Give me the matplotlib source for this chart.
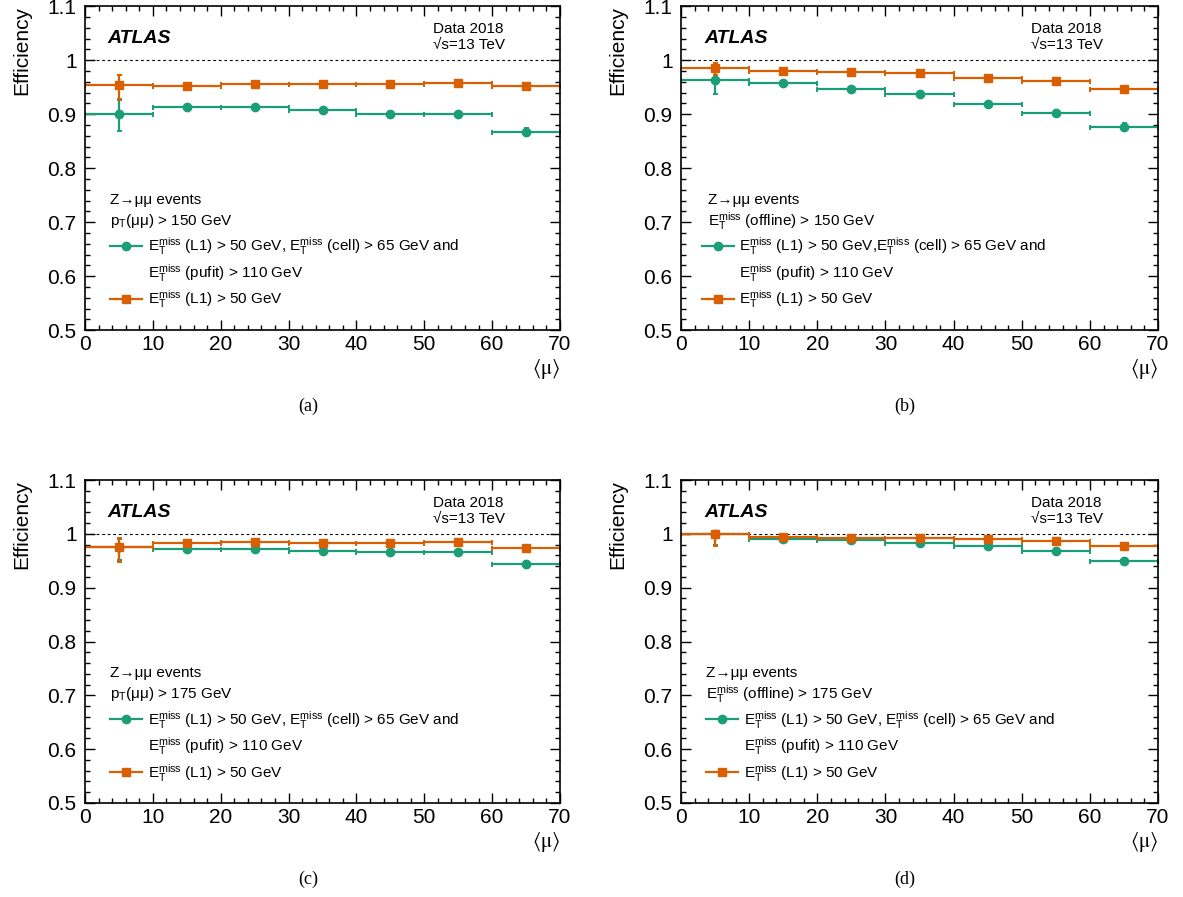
import matplotlib
matplotlib.use("Agg")
import numpy as np
import matplotlib.pyplot as plt
from matplotlib.lines import Line2D
from matplotlib.ticker import MultipleLocator, FuncFormatter

plt.rcParams['font.family'] = ['Liberation Sans', 'DejaVu Sans']
plt.rcParams['mathtext.fontset'] = 'custom'
plt.rcParams['mathtext.rm'] = 'Liberation Sans'
plt.rcParams['mathtext.it'] = 'Liberation Sans:italic'
plt.rcParams['mathtext.bf'] = 'Liberation Sans:bold'

# <mu> binning
mu_edges = [0, 10, 20, 30, 40, 50, 60, 70]

# (a) Z->mumu, pT(mumu) > 150 GeV
eff_a_comb = [0.901, 0.9125, 0.914, 0.907, 0.901, 0.901, 0.867]
lo_a_comb = [0.032, 0.002, 0.002, 0.002, 0.002, 0.002, 0.008]
hi_a_comb = [0.028, 0.002, 0.002, 0.002, 0.002, 0.002, 0.008]
eff_a_l1 = [0.954, 0.952, 0.956, 0.956, 0.956, 0.958, 0.953]
lo_a_l1 = [0.027, 0.002, 0.002, 0.002, 0.002, 0.002, 0.005]
hi_a_l1 = [0.018, 0.002, 0.002, 0.002, 0.002, 0.002, 0.005]

# (b) Z->mumu, MET(offline) > 150 GeV
eff_b_comb = [0.963, 0.958, 0.9475, 0.937, 0.919, 0.9025, 0.876]
lo_b_comb = [0.025, 0.002, 0.002, 0.002, 0.002, 0.002, 0.007]
hi_b_comb = [0.021, 0.002, 0.002, 0.002, 0.002, 0.002, 0.007]
eff_b_l1 = [0.985, 0.981, 0.979, 0.976, 0.968, 0.961, 0.946]
lo_b_l1 = [0.012, 0.002, 0.002, 0.002, 0.002, 0.002, 0.005]
hi_b_l1 = [0.010, 0.002, 0.002, 0.002, 0.002, 0.002, 0.005]

# (c) Z->mumu, pT(mumu) > 175 GeV
eff_c_comb = [0.976, 0.9725, 0.972, 0.969, 0.966, 0.967, 0.9435]
lo_c_comb = [0.025, 0.002, 0.002, 0.002, 0.002, 0.002, 0.007]
hi_c_comb = [0.015, 0.002, 0.002, 0.002, 0.002, 0.002, 0.007]
eff_c_l1 = [0.976, 0.983, 0.985, 0.984, 0.984, 0.985, 0.974]
lo_c_l1 = [0.029, 0.002, 0.002, 0.002, 0.002, 0.002, 0.005]
hi_c_l1 = [0.016, 0.002, 0.002, 0.002, 0.002, 0.002, 0.004]

# (d) Z->mumu, MET(offline) > 175 GeV
eff_d_comb = [0.999, 0.991, 0.988, 0.983, 0.977, 0.969, 0.950]
lo_d_comb = [0.020, 0.002, 0.002, 0.002, 0.002, 0.002, 0.007]
hi_d_comb = [0.001, 0.002, 0.002, 0.002, 0.002, 0.002, 0.006]
eff_d_l1 = [1.000, 0.9945, 0.993, 0.992, 0.991, 0.987, 0.977]
lo_d_l1 = [0.023, 0.002, 0.002, 0.002, 0.002, 0.002, 0.005]
hi_d_l1 = [0.000, 0.002, 0.002, 0.002, 0.002, 0.002, 0.004]

green = '#1b9e77'
orange = '#d95f02'
MET = r'$\mathrm{E}_{\mathrm{T}}^{\mathrm{miss}}$'

edges = np.array(mu_edges, dtype=float)
centers = 0.5 * (edges[1:] + edges[:-1])
halfw = 0.5 * (edges[1:] - edges[:-1])


def draw_panel(ax, comb, l1, header, comb_label, caption, hdr_x, leg_x):
    for (eff, lo, hi), col, mk in [(comb, green, 'o'), (l1, orange, 's')]:
        ax.errorbar(centers, eff, xerr=halfw, yerr=[lo, hi], fmt=mk, color=col,
                    ms=6, elinewidth=1.6, capsize=1.8, capthick=1.4)
    ax.axhline(1.0, color='k', ls=(0, (2.5, 2.5)), lw=0.8, zorder=0)

    ax.set_xlim(0, 70)
    ax.set_ylim(0.5, 1.1)
    ax.xaxis.set_major_locator(MultipleLocator(10))
    ax.xaxis.set_minor_locator(MultipleLocator(2))
    ax.yaxis.set_major_locator(MultipleLocator(0.1))
    ax.yaxis.set_minor_locator(MultipleLocator(0.02))
    ax.yaxis.set_major_formatter(FuncFormatter(lambda v, p: '%g' % round(v, 3)))
    ax.tick_params(which='both', direction='in', top=True, right=True, labelsize=15)
    ax.tick_params(which='major', length=7, width=1.0)
    ax.tick_params(which='minor', length=3.5, width=1.0)
    ax.tick_params(axis='y', which='major', pad=6)
    for sp in ax.spines.values():
        sp.set_linewidth(1.2)

    ax.set_ylabel('Efficiency', loc='top', fontsize=15, labelpad=12)
    ax.set_xlabel(r'$\langle\mathrm{\mu}\rangle$', loc='right', fontsize=15,
                  math_fontfamily='stix', labelpad=2)

    ax.text(0.048, 0.9, 'ATLAS', transform=ax.transAxes, fontsize=14,
            fontweight='bold', fontstyle='italic', va='center')
    ax.text(0.733, 0.93, 'Data 2018', transform=ax.transAxes, fontsize=11, va='center')
    ax.text(0.733, 0.88, '√s=13 TeV', transform=ax.transAxes, fontsize=11, va='center')

    ax.text(hdr_x, 0.402, 'Z→μμ events', transform=ax.transAxes, fontsize=11, va='center')
    ax.text(hdr_x, 0.338, header, transform=ax.transAxes, fontsize=11, va='center')

    handles = [Line2D([], [], color=green, marker='o', ms=6, lw=1.6),
               Line2D([], [], color='none'),
               Line2D([], [], color=orange, marker='s', ms=6, lw=1.6)]
    labels = [comb_label[0], comb_label[1], MET + ' (L1) > 50 GeV']
    ax.legend(handles, labels, loc='upper left', bbox_to_anchor=(leg_x, 0.292),
              frameon=False, fontsize=11, handlelength=2.1, handletextpad=0.35,
              borderpad=0, borderaxespad=0, labelspacing=0.3)

    ax.text(0.47, -0.235, caption, transform=ax.transAxes, fontsize=13,
            family='Liberation Serif', ha='center', va='center')


fig = plt.figure(figsize=(11.83, 8.97), dpi=100)
ax_a = fig.add_axes([0.0719, 0.632, 0.4015, 0.361])
ax_b = fig.add_axes([0.5757, 0.632, 0.4032, 0.361])
ax_c = fig.add_axes([0.0719, 0.1048, 0.4015, 0.360])
ax_d = fig.add_axes([0.5757, 0.1048, 0.4032, 0.360])

lab_space = (MET + ' (L1) > 50 GeV, ' + MET + ' (cell) > 65 GeV and',
             MET + ' (pufit) > 110 GeV')
lab_nospace = (MET + ' (L1) > 50 GeV,' + MET + ' (cell) > 65 GeV and',
               MET + ' (pufit) > 110 GeV')

draw_panel(ax_a, (eff_a_comb, lo_a_comb, hi_a_comb), (eff_a_l1, lo_a_l1, hi_a_l1),
           r'$\mathrm{p}_{\mathrm{T}}$(μμ) > 150 GeV', lab_space, '(a)', 0.053, 0.053)
draw_panel(ax_b, (eff_b_comb, lo_b_comb, hi_b_comb), (eff_b_l1, lo_b_l1, hi_b_l1),
           MET + ' (offline) > 150 GeV', lab_nospace, '(b)', 0.057, 0.044)
draw_panel(ax_c, (eff_c_comb, lo_c_comb, hi_c_comb), (eff_c_l1, lo_c_l1, hi_c_l1),
           r'$\mathrm{p}_{\mathrm{T}}$(μμ) > 175 GeV', lab_space, '(c)', 0.053, 0.053)
draw_panel(ax_d, (eff_d_comb, lo_d_comb, hi_d_comb), (eff_d_l1, lo_d_l1, hi_d_l1),
           MET + ' (offline) > 175 GeV', lab_space, '(d)', 0.053, 0.053)

fig.savefig('out.png', dpi=100)
